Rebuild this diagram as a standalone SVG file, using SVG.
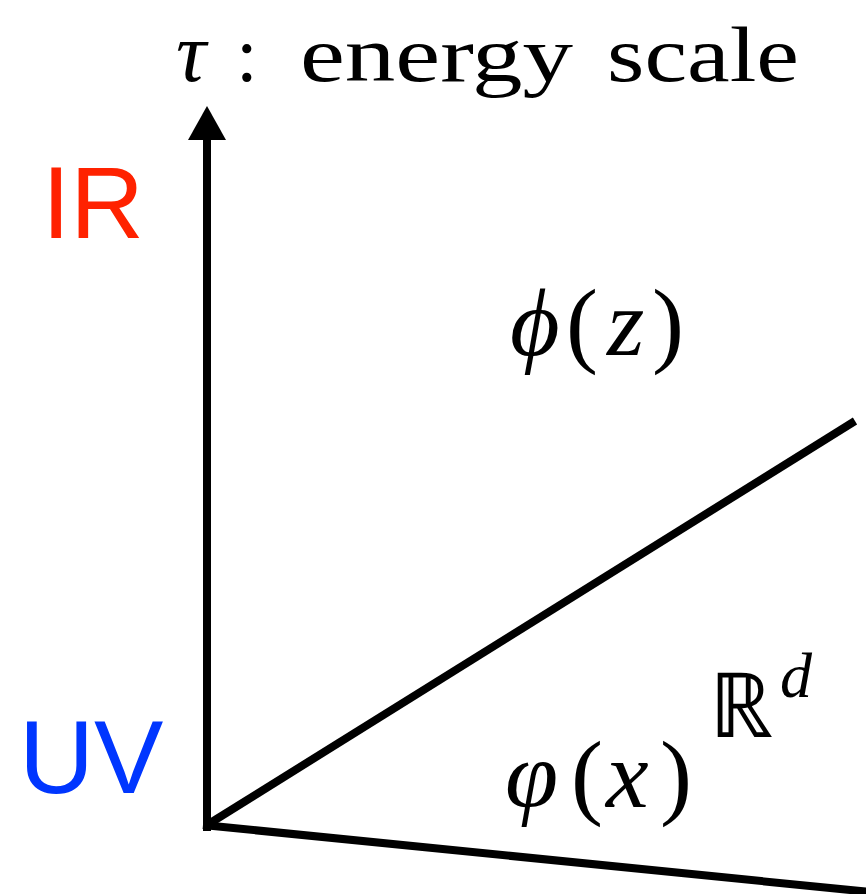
<svg xmlns="http://www.w3.org/2000/svg" width="866" height="894" viewBox="0 0 866 894">
<style>
.ax{stroke:#000;stroke-width:8;fill:none;stroke-linecap:butt}
.m{font-family:"Liberation Serif","Times New Roman",serif;fill:#000}
.i{font-style:italic}
.s{font-family:"Liberation Sans",Arial,sans-serif}
</style>
<rect width="866" height="894" fill="#fff"/>
<g id="connectors">
<line class="ax" x1="207" y1="831" x2="207" y2="136"/>
<polygon points="207,106 188,140 226,140" fill="#000"/>
<line class="ax" x1="207" y1="825" x2="855" y2="421"/>
<line class="ax" x1="203" y1="825" x2="870" y2="892"/>
</g>
<g id="title">
<text class="m i" x="176" y="81" font-size="84">τ</text>
<text class="m" x="236" y="81" font-size="78">:</text>
<text class="m" x="300" y="81" font-size="78" textLength="273" lengthAdjust="spacingAndGlyphs">energy</text>
<text class="m" x="607" y="81" font-size="78" textLength="192" lengthAdjust="spacingAndGlyphs">scale</text>
</g>
<g id="IR"><text class="s" x="42" y="238" font-size="102" fill="#ff2200">IR</text></g>
<g id="UV"><text class="s" x="19" y="793" font-size="104" fill="#0036ff">UV</text></g>
<g id="phi-z">
<text class="m i" x="510" y="355" font-size="96">ϕ</text>
<text class="m" x="566" y="355" font-size="96">(</text>
<text class="m i" x="607" y="355" font-size="96">z</text>
<text class="m" x="652" y="355" font-size="96">)</text>
</g>
<g id="varphi-x">
<text class="m i" x="505" y="807" font-size="96">φ</text>
<text class="m" x="571" y="807" font-size="96">(</text>
<text class="m i" x="606" y="807" font-size="96">x</text>
<text class="m" x="660" y="807" font-size="96">)</text>
</g>
<g id="Rd">
<text class="m" x="709" y="737" font-size="90" font-family="DejaVu Serif">ℝ</text>
<text class="m i" x="780" y="697" font-size="64">d</text>
</g>
</svg>
